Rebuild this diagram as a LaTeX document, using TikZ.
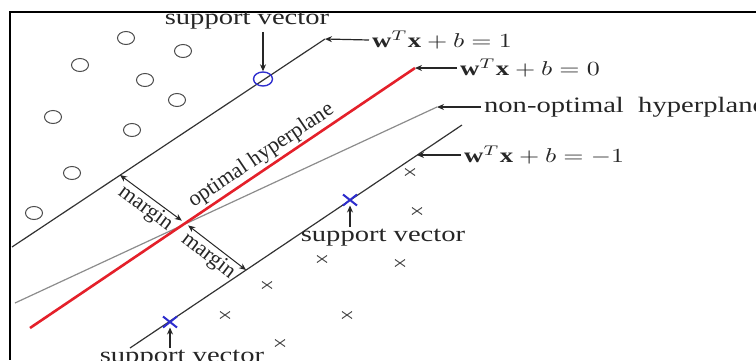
\documentclass[tikz,border=0pt]{standalone}
\usepackage{fontspec}
\setmainfont{Liberation Serif}
\usetikzlibrary{positioning,arrows.meta,shapes.geometric,shapes.misc}
\definecolor{svblue}{RGB}{45,45,205}
\definecolor{optred}{RGB}{228,32,42}

\begin{document}
\begin{tikzpicture}[
    x=0.5pt, y=-0.5pt,
    >={Stealth[length=3.5pt, width=3pt]},
    every node/.style={inner sep=1pt},
    lbl/.style={font=\fontsize{11}{13}\selectfont, xscale=1.3, text=black!85},
    eqlbl/.style={lbl, font=\fontsize{10.3}{12}\selectfont, anchor=west},
    tag/.style={font=\fontsize{11}{13}\selectfont, text=black!85},
    hplane/.style={draw=black!80, line width=0.6pt},
    posdot/.style={ellipse, draw=black!70, line width=0.5pt, minimum width=8.5pt, minimum height=6.5pt, inner sep=0pt},
    negdot/.style={cross out, draw=black!70, line width=0.5pt, minimum width=4.5pt, minimum height=3pt, inner sep=0pt},
    svpos/.style={posdot, draw=svblue, line width=0.7pt, minimum width=9.5pt, minimum height=7pt},
    svneg/.style={negdot, draw=svblue, line width=1pt, minimum width=6pt, minimum height=4.5pt},
    ptr/.style={->, draw=black!85, line width=0.6pt}
]
\useasboundingbox (0,0) rectangle (756,360);
\draw[line width=1.4pt] (756,12) -- (10,12) -- (10,360);

% hyperplanes
\coordinate (u0) at (12,247);  \coordinate (u1) at (325,39);
\coordinate (r0) at (30,328);  \coordinate (r1) at (415,68);
\coordinate (g0) at (15,303);  \coordinate (g1) at (437,107);
\coordinate (l0) at (130,348); \coordinate (l1) at (462,125);
\coordinate (lm) at (417,155);
\draw[hplane] (u0) -- (u1);
\draw[draw=black!45, line width=0.6pt] (g0) -- (g1);
\draw[hplane] (l0) -- (l1);

% margins
\coordinate (ma) at (120,175);
\coordinate (mb) at (185,223);
\coordinate (mc) at (246,270);
\draw[<->, black!85, line width=0.5pt, shorten >=2pt] (ma) -- node[tag, sloped, below] {margin} (mb);
\draw[<->, black!85, line width=0.5pt, shorten <=2pt] (mb) -- node[tag, sloped, below] {margin} (mc);

\draw[optred, line width=1.3pt] (r0) -- node[tag, sloped, above, pos=0.62] {optimal hyperplane} (r1);

% data points
\foreach \px/\py [count=\i] in {126/38, 183/51, 80/65, 145/80, 177/100, 53/117, 132/130, 72/173, 34/213}
  \node[posdot] (c\i) at (\px,\py) {};
\foreach \px/\py [count=\i] in {410/172, 417/211, 322/259, 400/263, 267/285, 347/315, 225/315, 280/343}
  \node[negdot] (x\i) at (\px,\py) {};

\node[svpos] (sv1) at (263,79) {};
\node[svneg] (sv2) at (350,200) {};
\node[svneg] (sv3) at (170,322) {};

\node[lbl] (sv1txt) at (247,21) {support vector};
\node[lbl] (sv2txt) at (383,238) {support vector};
\node[lbl] (sv3txt) at (182,359) {support vector};
\draw[ptr] (sv1txt.south -| sv1) -- (sv1);
\draw[ptr] (sv2txt.north -| sv2) -- (sv2);
\draw[ptr] (sv3txt.north -| sv3) -- (sv3);

% equations
\node[eqlbl] (eq1) at (369,40) {$\mathbf{w}^T\mathbf{x}+b=1$};
\node[eqlbl] (eq0) at (457,68) {$\mathbf{w}^T\mathbf{x}+b=0$};
\node[lbl, anchor=west] (nonopt) at (481,107) {non-optimal\enspace hyperplane};
\node[eqlbl] (eqm) at (461,155) {$\mathbf{w}^T\mathbf{x}+b=-1$};
\draw[ptr] (eq1.west) -- (u1);
\draw[ptr] (eq0.west) -- (r1);
\draw[ptr] (nonopt.west) -- (g1);
\draw[ptr] (eqm.west) -- (lm);

\end{tikzpicture}
\end{document}
